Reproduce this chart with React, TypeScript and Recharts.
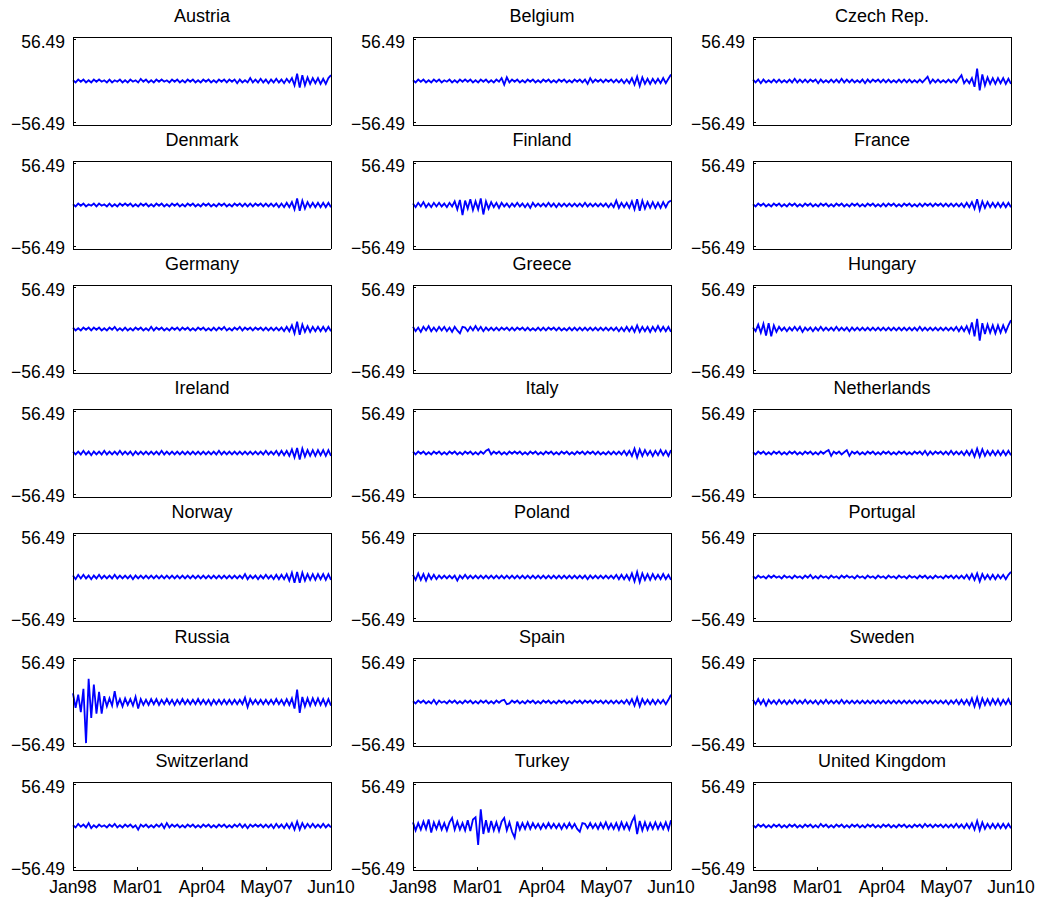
import { Line, LineChart, XAxis, YAxis } from "recharts";

const xTickLabels = ["Jan98", "Mar01", "Apr04", "May07", "Jun10"];
const yTicks = [-56.49, 56.49];

const countryNames = [
  "Austria", "Belgium", "Czech Rep.",
  "Denmark", "Finland", "France",
  "Germany", "Greece", "Hungary",
  "Ireland", "Italy", "Netherlands",
  "Norway", "Poland", "Portugal",
  "Russia", "Spain", "Sweden",
  "Switzerland", "Turkey", "United Kingdom",
];

// daily returns, thinned to ~100 readings per panel
const austria = [
  1, -2, 2, -1, 2, -2, 1, -2, 2, -1, 2, -1, 1, -2, 2, -2, 1, -1, 2, -2,
  1, -2, 2, -1, 1, -2, 3, -1, 2, -2, 1, -2, 2, -1, 2, -1, 1, -2, 2, -1,
  2, -2, 1, -2, 2, -1, 2, -2, 1, -2, 2, -1, 2, -2, 1, -2, 2, -1, 2, -2,
  2, -1, 2, -3, 2, -2, 1, -2, 4, -2, 2, -2, 3, -2, 2, -3, 2, -2, 3, -2,
  2, -3, 3, -2, 4, -6, 10, -9, 8, -6, 5, -4, 4, -3, 4, -4, 3, -4, 4, 8,
];
const belgium = [
  1, -2, 2, -1, 2, -2, 1, -2, 2, -1, 2, -2, 1, -1, 2, -2, 1, -2, 2, -1,
  2, -1, 2, -2, 1, -2, 2, -1, 2, -2, 1, -2, 2, -1, 4, -5, 5, -2, 2, -1,
  2, -2, 1, -2, 2, -1, 2, -2, 1, -2, 2, -1, 2, -2, 1, -2, 2, -1, 2, -2,
  1, -2, 2, -1, 2, -2, 2, -4, 4, -2, 2, -1, 2, -2, 2, -1, 2, -2, 2, -2,
  2, -3, 2, -3, 4, -5, 6, -7, 5, -4, 3, -4, 3, -3, 3, -3, 4, -3, 3, 9,
];
const czech = [
  2, -2, 2, -3, 2, -2, 1, -2, 2, -2, 2, -2, 1, -2, 2, -2, 3, -2, 2, -2,
  2, -2, 2, -1, 2, -3, 2, -2, 1, -2, 2, -2, 2, -2, 3, -2, 2, -2, 2, -2,
  1, -2, 2, -3, 2, -2, 2, -1, 2, -2, 2, -2, 2, -2, 1, -2, 2, -2, 2, -2,
  2, -2, 1, -2, 2, -2, 2, 6, -3, 2, -2, 2, -2, 1, -2, 2, -2, 2, -2, 3,
  8, -3, 2, -3, 4, -8, 17, -13, 9, -6, 5, -4, 4, -4, 4, -3, 4, -4, 3, -4,
];
const denmark = [
  1, -2, 2, -1, 2, -2, 1, -1, 2, -2, 2, -1, 1, -2, 2, -2, 1, -2, 2, -1,
  2, -1, 2, -2, 1, -2, 2, -1, 2, -2, 1, -2, 2, -1, 2, -2, 1, -2, 2, -1,
  2, -2, 1, -2, 2, -1, 2, -2, 1, -2, 2, -1, 2, -2, 1, -2, 2, -1, 2, -2,
  1, -2, 2, -1, 2, -2, 2, -2, 2, -2, 2, -1, 2, -2, 2, -2, 2, -2, 2, -3,
  2, -3, 3, -3, 4, -6, 9, -8, 6, -5, 4, -3, 3, -3, 3, -3, 3, -3, 3, -3,
];
const finland = [
  2, -3, 3, -2, 4, -3, 2, -3, 3, -2, 3, -2, 2, -3, 3, -2, 5, -6, 7, -14,
  6, -5, 8, -7, 5, -6, 9, -13, 5, -5, 4, -3, 3, -4, 3, -2, 2, -3, 2, -2,
  3, -2, 2, -3, 2, -4, 3, -2, 2, -2, 2, -2, 3, -2, 2, -3, 2, -2, 2, -2,
  2, -2, 2, -2, 2, -2, 3, -2, 2, -2, 2, -2, 2, -2, 2, -3, 2, -3, 6, -4,
  3, -3, 3, -4, 5, -6, 8, -8, 6, -5, 4, -4, 4, -4, 3, -4, 4, -3, 4, 6,
];
const france = [
  1, -2, 2, -1, 2, -2, 1, -2, 2, -1, 2, -2, 1, -2, 2, -1, 2, -2, 1, -2,
  2, -1, 2, -2, 1, -2, 2, -1, 2, -2, 1, -2, 2, -1, 2, -2, 1, -2, 2, -1,
  2, -2, 1, -2, 2, -1, 2, -2, 1, -2, 2, -2, 2, -1, 2, -2, 1, -2, 2, -1,
  2, -2, 1, -2, 2, -2, 2, -1, 2, -2, 2, -1, 2, -2, 2, -2, 2, -2, 2, -2,
  2, -3, 3, -3, 4, -5, 8, -7, 5, -4, 4, -3, 3, -3, 3, -3, 3, -3, 3, -3,
];
const germany = [
  2, -2, 1, -2, 2, -1, 2, -2, 2, -1, 2, -2, 1, -2, 2, -1, 3, -2, 1, -2,
  2, -2, 1, -2, 2, -1, 2, -2, 1, -2, 3, -2, 2, -1, 2, -2, 1, -2, 2, -1,
  2, -2, 2, -1, 2, -2, 1, -2, 2, -1, 2, -2, 1, -2, 2, -2, 2, -1, 3, -2,
  1, -2, 2, -1, 3, -2, 2, -1, 2, -2, 2, -1, 2, -2, 2, -2, 2, -2, 2, -2,
  2, -3, 3, -3, 5, -6, 10, -8, 6, -4, 4, -4, 3, -3, 3, -3, 3, -3, 3, -3,
];
const greece = [
  3, -3, 2, -4, 3, -2, 4, -3, 2, -3, 3, -2, 3, -3, 2, -4, 3, -2, -6, 3,
  2, -3, 3, -2, 4, -2, 3, -3, 2, -2, 2, -2, 2, -2, 2, -1, 2, -2, 2, -2,
  2, -1, 2, -2, 2, -2, 1, -2, 2, -2, 2, -2, 2, -1, 2, -2, 2, -2, 1, -2,
  2, -2, 2, -2, 2, -2, 2, -2, 2, -2, 2, -2, 2, -2, 2, -2, 2, -2, 2, -3,
  2, -3, 3, -3, 3, -4, 5, -4, 3, -3, 3, -4, 3, -3, 4, -3, 3, -3, 3, -4,
];
const hungary = [
  2, -3, 6, -5, 7, -9, 8, -10, 5, -4, 3, -2, 2, -3, 2, -2, 3, -2, 3, -4,
  2, -2, 2, -3, 2, -2, 3, -2, 2, -2, 2, -2, 3, -2, 2, -2, 2, -3, 2, -2,
  2, -2, 2, -2, 2, -2, 2, -2, 2, -2, 2, -2, 2, -2, 2, -2, 2, -2, 2, -2,
  2, -2, 2, -2, 3, -2, 2, -2, 2, -2, 2, -2, 2, -2, 2, -2, 2, -2, 3, -3,
  3, -3, 4, -5, 9, -10, 14, -16, 8, -7, 6, -5, 5, -6, 5, -5, 5, -4, 5, 12,
];
const ireland = [
  2, -2, 2, -2, 3, -2, 2, -3, 2, -2, 2, -2, 3, -2, 2, -2, 2, -2, 3, -2,
  2, -2, 2, -3, 2, -2, 2, -2, 2, -2, 2, -2, 2, -2, 3, -2, 2, -2, 2, -2,
  2, -2, 2, -2, 2, -2, 2, -2, 2, -2, 2, -2, 2, -2, 2, -2, 3, -2, 2, -2,
  2, -2, 2, -2, 2, -2, 2, -2, 2, -2, 2, -2, 2, -2, 3, -2, 2, -2, 3, -3,
  3, -3, 3, -4, 5, -6, 7, -9, 6, -5, 4, -4, 4, -4, 4, -3, 4, -4, 4, -4,
];
const italy = [
  2, -2, 2, -1, 2, -2, 1, -2, 2, -1, 2, -2, 1, -2, 2, -1, 2, -2, 1, -2,
  2, -1, 2, -2, 1, -2, 2, -1, 3, 5, -2, 2, -1, 2, -2, 1, -2, 2, -1, 2,
  -1, 2, -2, 1, -2, 2, -1, 2, -2, 1, -2, 2, -1, 2, -2, 1, -2, 2, -1, 2,
  -2, 1, -2, 2, -1, 2, -2, 2, -1, 2, -2, 2, -2, 1, -2, 2, -2, 2, -2, 2,
  -2, 3, -3, 3, -4, 6, -6, 5, -4, 4, -3, 3, -4, 3, -3, 4, -3, 3, -4, 4,
];
const netherlands = [
  1, -2, 2, -1, 2, -2, 1, -2, 2, -1, 2, -2, 1, -2, 2, -1, 2, -2, 1, -2,
  2, -1, 2, -2, 1, -2, 2, -1, 2, 4, -4, 2, -1, 2, -2, 1, 4, -4, 2, -1,
  2, -2, 1, -2, 2, -1, 2, -2, 1, -2, 2, -1, 2, -2, 1, -2, 2, -1, 2, -2,
  1, -2, 2, -1, 2, -2, 3, -3, 2, -2, 2, -1, 2, -2, 2, -2, 3, -2, 2, -2,
  2, -3, 3, -3, 4, -5, 6, -5, 5, -4, 3, -3, 3, -3, 3, -3, 3, -3, 3, -3,
];
const norway = [
  2, -3, 3, -2, 3, -2, 2, -3, 2, -2, 3, -2, 2, -2, 2, -2, 3, -2, 2, -2,
  2, -2, 2, -3, 2, -2, 2, -2, 2, -2, 2, -2, 2, -2, 2, -2, 2, -2, 2, -2,
  2, -2, 2, -2, 2, -2, 2, -2, 2, -2, 2, -2, 2, -2, 2, -2, 2, -2, 2, -2,
  2, -2, 2, -2, 2, -2, 4, -3, 2, -2, 2, -3, 2, -2, 3, -2, 2, -3, 3, -3,
  3, -3, 4, -5, 6, -8, 7, -8, 6, -5, 4, -4, 4, -4, 4, -3, 4, -4, 4, -4,
];
const poland = [
  3, -4, 5, -4, 4, -5, 4, -3, 3, -3, 2, -2, 2, -2, 2, -2, 2, -5, 2, -2,
  3, -2, 2, -2, 2, -2, 2, -2, 2, -2, 2, -2, 2, -2, 2, -2, 2, -2, 2, -2,
  2, -2, 2, -2, 2, -2, 2, -2, 2, -2, 2, -2, 2, -2, 2, -2, 2, -2, 2, -2,
  2, -2, 2, -2, 2, -2, 2, -3, 2, -2, 2, -2, 2, -2, 2, -2, 2, -2, 3, -3,
  3, -3, 3, -4, 5, -6, 7, -7, 5, -4, 4, -4, 4, -3, 3, -3, 4, -3, 3, -4,
];
const portugal = [
  1, -2, 2, -1, 1, -2, 2, -1, 2, -1, 1, -2, 2, -1, 1, -2, 2, -1, 1, -2,
  2, -1, 3, -2, 1, -2, 2, -1, 1, -2, 2, -1, 1, -2, 2, -1, 2, -1, 1, -2,
  2, -1, 1, -2, 2, -1, 1, -2, 2, -1, 1, -2, 2, -1, 1, -2, 2, -1, 1, -2,
  2, -1, 1, -2, 2, -1, 2, -2, 1, -2, 2, -1, 1, -2, 2, -1, 2, -2, 2, -2,
  2, -2, 3, -3, 4, -4, 5, -6, 4, -3, 3, -3, 3, -3, 3, -2, 3, -3, 3, 7,
];
const russia = [
  12, -8, 10, -14, 18, -56.49, 32, -22, 24, -16, 14, -16, 8, -6, 5, -5, 15, -5, 4, -6,
  5, -4, 4, -5, 7, -9, 4, -4, 3, -4, 4, -3, 4, -4, 3, -3, 4, -3, 3, -4,
  3, -3, 4, -3, 3, -3, 3, -3, 4, -3, 3, -3, 3, -4, 3, -3, 3, -3, 3, -3,
  3, -3, 3, -3, 3, -3, 6, -7, 4, -3, 3, -3, 3, -3, 3, -3, 3, -3, 4, -3,
  3, -4, 4, -4, 5, -9, 17, -15, 7, -6, 5, -5, 5, -4, 5, -4, 4, -5, 4, -5,
];
const spain = [
  1, -2, 2, -1, 2, -2, 1, -2, 3, -3, 2, -1, 1, -2, 2, -1, 2, -2, 1, -2,
  2, -1, 2, -2, 1, -2, 2, -1, 2, -2, 1, -2, 2, -1, 2, 3, -3, -2, 2, -1,
  2, -2, 1, -2, 2, -1, 2, -2, 1, -2, 2, -1, 2, -2, 1, -2, 2, -1, 2, -2,
  1, -2, 2, -1, 2, -2, 2, -1, 2, -2, 2, -1, 2, -2, 2, -2, 2, -2, 2, -2,
  2, -2, 3, -3, 4, -5, 6, -6, 4, -3, 3, -3, 3, -3, 3, -2, 3, -3, 3, 10,
];
const sweden = [
  3, -3, 4, -3, 3, -5, 3, -2, 2, -3, 3, -2, 2, -3, 2, -2, 3, -2, 2, -2,
  3, -2, 2, -2, 2, -3, 2, -2, 3, -2, 2, -2, 2, -2, 3, -2, 2, -2, 2, -2,
  2, -2, 2, -2, 2, -2, 2, -2, 2, -2, 2, -2, 2, -2, 2, -2, 2, -2, 2, -2,
  2, -2, 2, -2, 2, -2, 2, -2, 2, -2, 2, -2, 2, -2, 2, -3, 2, -2, 3, -3,
  3, -3, 3, -4, 5, -6, 6, -7, 5, -4, 4, -4, 4, -3, 4, -4, 3, -3, 4, -4,
];
const switzerland = [
  1, -2, 3, -1, 2, -2, 4, -3, 1, -2, 2, -1, 1, -2, 2, -1, 3, -2, 1, -2,
  2, -1, 2, -2, 1, -5, 2, -1, 2, -2, 1, -2, 2, -1, 3, -3, 4, -2, 2, -1,
  2, -2, 1, -2, 2, -1, 2, -2, 1, -2, 2, -1, 2, -2, 1, -2, 2, -1, 2, -2,
  1, -2, 2, -1, 3, -2, 2, -3, 2, -1, 2, -1, 2, -2, 2, -2, 2, -3, 3, -2,
  2, -3, 3, -3, 4, -5, 6, -5, 4, -3, 3, -2, 3, -2, 2, -2, 3, -2, 2, -2,
];
const turkey = [
  5, -6, 4, -5, 6, -4, 9, -9, 5, -4, 6, -5, 4, -6, 5, 11, -5, 6, -5, 4,
  -6, 8, -7, 9, 12, -26, 23, -11, 8, -9, 7, -6, 5, -7, 6, 11, -6, 5, -8, -16,
  6, -5, 4, -4, 5, -4, 4, -3, 3, -4, 3, -3, 4, -3, 3, -3, 3, -4, 3, -3,
  4, -3, 3, -4, -8, 4, 3, -3, 4, -3, 3, -4, 4, -3, 5, -4, 3, -4, 4, -5,
  5, -4, 4, -5, 6, 13, -11, 7, -6, 5, -5, 4, -4, 5, -4, 4, -4, 5, -5, 8,
];
const unitedKingdom = [
  1, -2, 2, -1, 2, -2, 1, -2, 2, -1, 2, -2, 1, -2, 2, -1, 2, -2, 1, -2,
  2, -1, 2, -2, 1, -2, 3, -1, 2, -2, 1, -2, 2, -1, 2, -2, 1, -2, 2, -1,
  2, -2, 1, -2, 2, -1, 2, -2, 1, -2, 2, -1, 2, -2, 1, -2, 2, -1, 2, -2,
  1, -2, 2, -1, 2, -2, 3, -1, 2, -2, 2, -1, 2, -2, 2, -2, 2, -2, 3, -2,
  2, -3, 3, -3, 4, -5, 7, -6, 5, -4, 3, -3, 3, -3, 3, -3, 3, -3, 3, -3,
];

const countrySeries = [
  austria, belgium, czech,
  denmark, finland, france,
  germany, greece, hungary,
  ireland, italy, netherlands,
  norway, poland, portugal,
  russia, spain, sweden,
  switzerland, turkey, unitedKingdom,
];

const BOX_W = 258;
const BOX_H = 88;
const AXIS_W = 73;
const PAD_TOP = 12;
const PAD_RIGHT = 30;
const PAD_BOTTOM = 12;
const colLefts = [73, 413, 753];
const rowTops = [37, 161, 285, 409, 533, 658, 782];
const font = '"Liberation Sans", Arial, Helvetica, sans-serif';
const blue = "#0000ff";
const edge = { stroke: "#000", strokeWidth: 1, shapeRendering: "crispEdges" };

const fmtY = (v: number) => String(v).replace("-", "\u2212");

type PanelProps = {
  name: string;
  values: number[];
  left: number;
  top: number;
  showX: boolean;
};

function Panel({ name, values, left, top, showX }: PanelProps) {
  const data = values.map((v, i) => ({ i, v }));
  const last = values.length - 1;
  const xTicks = xTickLabels.map((_, k) => (last * k) / (xTickLabels.length - 1));
  // top axis and right axis take 1px each, so the box starts 1px inside
  const bottomH = showX ? 30 : 1;
  const width = AXIS_W + BOX_W + 1 + PAD_RIGHT;
  const height = PAD_TOP + 1 + BOX_H + bottomH + PAD_BOTTOM;

  return (
    <>
      <div
        style={{
          position: "absolute",
          left: left,
          top: top - 31,
          width: BOX_W,
          textAlign: "center",
          fontFamily: font,
          fontSize: 18,
          lineHeight: "20px",
          color: "#000",
        }}
      >
        {name}
      </div>
      <div style={{ position: "absolute", left: left - AXIS_W, top: top - PAD_TOP - 1 }}>
        <LineChart
          width={width}
          height={height}
          data={data}
          margin={{ top: PAD_TOP, right: PAD_RIGHT, bottom: PAD_BOTTOM, left: 0 }}
        >
          <XAxis
            dataKey="i"
            type="number"
            domain={[0, last]}
            ticks={xTicks}
            interval={0}
            height={bottomH}
            axisLine={edge}
            tickLine={edge}
            tickSize={-3}
            tickMargin={14}
            tick={showX ? { fill: "#000", fontSize: 17.5, fontFamily: font } : false}
            tickFormatter={(_v: number, idx: number) => xTickLabels[idx]}
          />
          <XAxis
            xAxisId="top"
            orientation="top"
            dataKey="i"
            type="number"
            domain={[0, last]}
            ticks={xTicks}
            interval={0}
            height={1}
            axisLine={edge}
            tickLine={edge}
            tickSize={-3}
            tick={false}
          />
          <YAxis
            type="number"
            domain={[-60.5, 60.5]}
            ticks={yTicks}
            interval={0}
            width={AXIS_W}
            axisLine={edge}
            tickLine={edge}
            tickSize={-3}
            tickMargin={11}
            tick={{ fill: "#000", fontSize: 17.5, fontFamily: font, dy: 1.5 }}
            tickFormatter={fmtY}
          />
          <YAxis
            yAxisId="right"
            orientation="right"
            type="number"
            domain={[-60.5, 60.5]}
            ticks={yTicks}
            interval={0}
            width={1}
            axisLine={edge}
            tickLine={edge}
            tickSize={-3}
            tick={false}
          />
          <Line
            dataKey="v"
            type="linear"
            stroke={blue}
            strokeWidth={1.8}
            dot={false}
            isAnimationActive={false}
          />
        </LineChart>
      </div>
    </>
  );
}

export default function App() {
  return (
    <div
      style={{
        position: "absolute",
        left: 0,
        top: 0,
        width: 1045,
        height: 899,
        background: "#fff",
        overflow: "hidden",
      }}
    >
      {countryNames.map((name, k) => (
        <Panel
          key={name}
          name={name}
          values={countrySeries[k]}
          left={colLefts[k % 3]}
          top={rowTops[Math.floor(k / 3)]}
          showX={Math.floor(k / 3) === rowTops.length - 1}
        />
      ))}
    </div>
  );
}
